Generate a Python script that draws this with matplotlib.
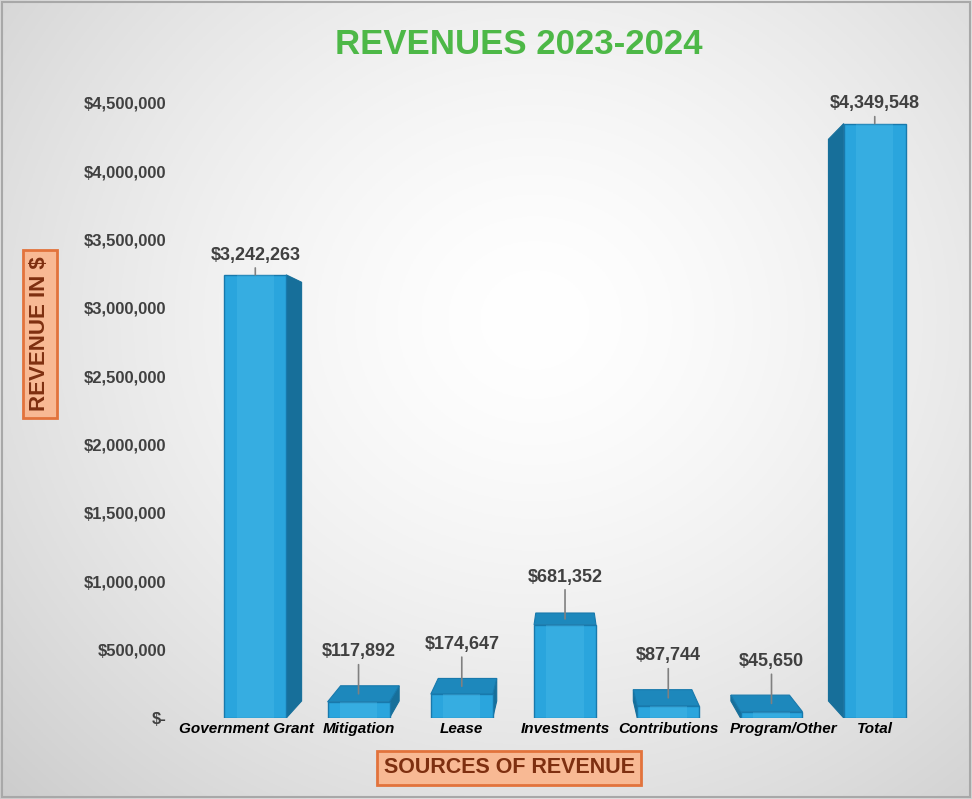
import matplotlib

matplotlib.use("Agg")
import matplotlib.pyplot as plt
import numpy as np
from matplotlib.patches import Polygon, Rectangle
from matplotlib.transforms import ScaledTranslation

# data
categories = ["Government Grant", "Mitigation", "Lease", "Investments",
              "Contributions", "Program/Other", "Total"]
revenues = [3242263, 117892, 174647, 681352, 87744, 45650, 4349548]
value_labels = ["$3,242,263", "$117,892", "$174,647", "$681,352",
                "$87,744", "$45,650", "$4,349,548"]
y_ticks = [0, 500000, 1000000, 1500000, 2000000, 2500000, 3000000,
           3500000, 4000000, 4500000]
y_tick_labels = ["$-", "$500,000", "$1,000,000", "$1,500,000", "$2,000,000",
                 "$2,500,000", "$3,000,000", "$3,500,000", "$4,000,000",
                 "$4,500,000"]

FRONT = "#2AA5DD"
SIDE = "#176F9A"
TOP = "#1D88BC"
EDGE = "#1879AC"
TITLE_GREEN = "#4DB847"
BOX_FACE = "#F8B994"
BOX_EDGE = "#E2733C"
BOX_TEXT = "#7E2F10"

# fake 3D: back face = front face shrunk toward a vanishing point
VP_X, VP_Y, SHRINK = 3.0, 2.26e6, 0.945
BAR_W = 0.6
# small horizontal nudges (px) for category labels, as in the source
LABEL_NUDGE = {"Government Grant": -9, "Program/Other": 12}

plt.rcParams["font.family"] = ["Liberation Sans", "DejaVu Sans"]

fig = plt.figure(figsize=(9.72, 7.99), dpi=100)

# soft radial backdrop
bg = fig.add_axes([0, 0, 1, 1], zorder=-10)
yy, xx = np.mgrid[0:1:300j, 0:1:360j]
r = np.sqrt(((xx - 0.55) / 0.72) ** 2 + ((yy - 0.4) / 0.8) ** 2)
shade = 1.0 - 0.18 * np.clip(r, 0, 1.25) ** 1.5
bg.imshow(np.dstack([shade, shade, shade]), aspect="auto", extent=(0, 1, 0, 1))
bg.set_axis_off()
fig.patches.append(Rectangle((0.002, 0.002), 0.996, 0.996, transform=fig.transFigure,
                             fill=False, edgecolor="#A8A8A8", lw=1.5))

ax = fig.add_axes([0.1883, 0.1014, 0.786, 0.7697])
ax.set_facecolor("none")
xs = np.arange(len(categories))


def back(x, y):
    return VP_X + (x - VP_X) * SHRINK, VP_Y + (y - VP_Y) * SHRINK


for c, h in zip(xs, revenues):
    xl, xr = c - BAR_W / 2, c + BAR_W / 2
    if c < VP_X:
        bx0, by0 = back(xr, 0)
        bx1, by1 = back(xr, h)
        ax.add_patch(Polygon([(xr, 0), (xr, h), (bx1, by1), (bx0, by0)],
                             facecolor=SIDE, edgecolor=SIDE, lw=0.8, zorder=2))
    elif c > VP_X:
        bx0, by0 = back(xl, 0)
        bx1, by1 = back(xl, h)
        ax.add_patch(Polygon([(xl, 0), (xl, h), (bx1, by1), (bx0, by0)],
                             facecolor=SIDE, edgecolor=SIDE, lw=0.8, zorder=2))
    if h < VP_Y:
        blx, bly = back(xl, h)
        brx, bry = back(xr, h)
        ax.add_patch(Polygon([(xl, h), (xr, h), (brx, bry), (blx, bly)],
                             facecolor=TOP, edgecolor=EDGE, lw=0.8, zorder=2))

ax.bar(xs, revenues, width=BAR_W, color=FRONT, edgecolor=EDGE, linewidth=1.0, zorder=3)
# light inner highlight on the front faces
ax.bar(xs, revenues, width=BAR_W * 0.6, color="#5CC6F0", alpha=0.25, linewidth=0, zorder=3.5)

for c, h, lab in zip(xs, revenues, value_labels):
    if h < VP_Y:
        y_end = (h + back(c, h)[1]) / 2
        off = 24
    else:
        y_end = h
        off = 8
    ax.annotate(lab, xy=(c, y_end), xytext=(0, off), textcoords="offset points",
                ha="center", va="bottom", fontsize=13, fontweight="bold",
                color="#404040", annotation_clip=False, zorder=5,
                arrowprops=dict(arrowstyle="-", color="#808080", lw=1.2,
                                shrinkA=1, shrinkB=0))

ax.set_xlim(-0.7, 6.7)
ax.set_ylim(0, 4500000)
ax.set_yticks(y_ticks)
ax.set_yticklabels(y_tick_labels, fontsize=12, fontweight="bold", color="#404040")
ax.set_xticks(xs)
ax.set_xticklabels(categories, fontsize=11, fontweight="bold", fontstyle="italic",
                   color="black")
ax.tick_params(axis="y", length=0, pad=12)
ax.tick_params(axis="x", length=0, pad=3)
for lab in ax.get_xticklabels():
    dx = LABEL_NUDGE.get(lab.get_text(), 0)
    if dx:
        lab.set_transform(lab.get_transform() + ScaledTranslation(dx / 100, 0, fig.dpi_scale_trans))
for s in ax.spines.values():
    s.set_visible(False)

fig.text(0.534, 0.944, "REVENUES 2023-2024", ha="center", va="center",
         fontsize=25, fontweight="bold", color=TITLE_GREEN)

box = dict(boxstyle="square,pad=0.3", facecolor=BOX_FACE, edgecolor=BOX_EDGE, lw=2)
fig.text(0.041, 0.582, "REVENUE IN $", rotation=90, ha="center", va="center",
         fontsize=16, fontweight="bold", color=BOX_TEXT, bbox=box)
fig.text(0.524, 0.039, "SOURCES OF REVENUE", ha="center", va="center",
         fontsize=15.5, fontweight="bold", color=BOX_TEXT, bbox=box)

fig.savefig("out.png", dpi=100)
